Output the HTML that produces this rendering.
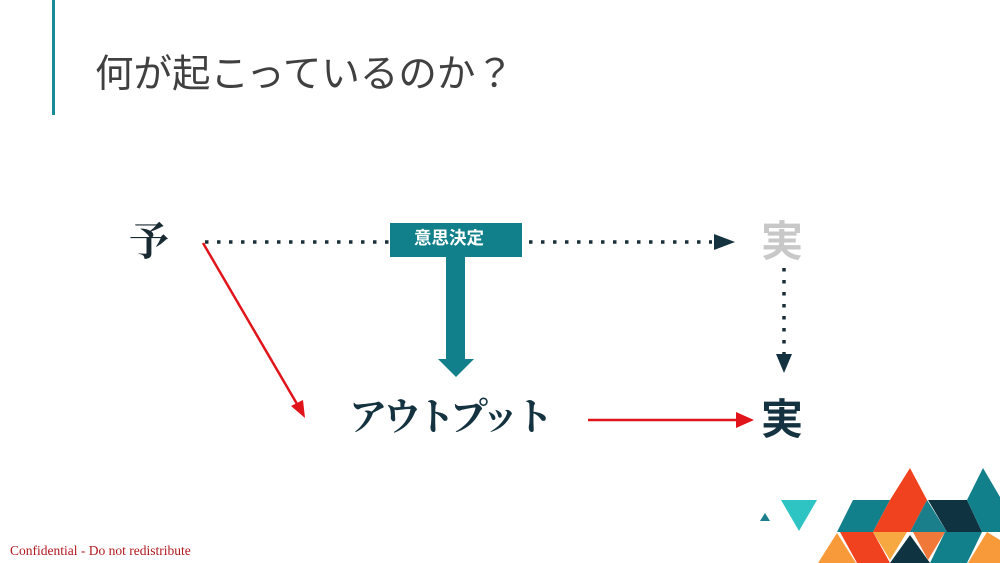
<!DOCTYPE html>
<html><head><meta charset="utf-8"><style>
body{margin:0;width:1000px;height:563px;overflow:hidden;background:#fff;position:relative;font-family:"Liberation Sans","Noto Sans CJK JP",sans-serif}
.t{position:absolute;white-space:nowrap;line-height:1}
</style></head><body>
<div style="position:absolute;left:52px;top:0;width:3px;height:115px;background:#1a8a96"></div>
<div class="t" style="left:95px;top:56px;font-size:38.5px;color:#404040">何が起こっているのか？</div>
<svg width="1000" height="563" style="position:absolute;left:0;top:0">
<line x1="205" y1="242" x2="712" y2="242" stroke="#1a2e38" stroke-width="3.5" stroke-dasharray="3.5,8.5"/>
<polygon points="714,234 735,242 714,250" fill="#14323f"/>
<line x1="784" y1="268" x2="784" y2="354" stroke="#1a2e38" stroke-width="3.5" stroke-dasharray="3.5,8.5"/>
<polygon points="776,354 792,354 784,373" fill="#14323f"/>
<rect x="390" y="223" width="132" height="34" fill="#11808a"/>
<rect x="446" y="257" width="19" height="103" fill="#11808a"/>
<polygon points="438,359 474,359 456,377" fill="#11808a"/>
<line x1="203" y1="243" x2="297" y2="404" stroke="#e0141a" stroke-width="2.5"/>
<polygon points="291,406 305,418 303,400" fill="#e0141a"/>
<line x1="588" y1="420" x2="738" y2="420" stroke="#e0141a" stroke-width="2.5"/>
<polygon points="736,412 754,420 736,428" fill="#e0141a"/>
<polygon points="760,521 770,521 765,513" fill="#1a7f8a"/>
<polygon points="781,500 817,500 799,531" fill="#2ec4c4"/>
<polygon points="853,500 890,500 873,532 837,532" fill="#12808a"/>
<polygon points="910,468 927,500 910,532 873,532 890,500" fill="#f0421e"/>
<polygon points="910,532 927,500 947,532" fill="#1a7f8a"/>
<polygon points="928,500 967,500 982,532 947,532" fill="#0f3340"/>
<polygon points="983,468 1000,497 1000,532 982,532 967,500" fill="#12808a"/>
<polygon points="837,533 818,563 856,563" fill="#f89a3a"/>
<polygon points="840,532 873,532 890,563 857,563" fill="#f0421e"/>
<polygon points="873,532 907,532 890,560" fill="#f8a840"/>
<polygon points="910,535 890,563 930,563" fill="#0f3340"/>
<polygon points="913,532 945,532 928,560" fill="#f0793a"/>
<polygon points="945,532 982,532 967,563 930,563" fill="#12808a"/>
<polygon points="987,532 968,563 1000,563 1000,540" fill="#f89a3a"/>
</svg>
<div class="t" style="left:414px;top:230px;font-size:17.5px;color:#fff;font-weight:bold">意思決定</div>
<div class="t" style="left:129px;top:222px;font-size:40px;color:#1a2a33;font-weight:bold;font-family:'Liberation Serif','Noto Serif CJK SC',serif">予</div>
<div class="t" style="left:761px;top:221px;font-size:42px;color:#c8c8c8;font-weight:bold">実</div>
<div class="t" style="left:761px;top:399px;font-size:42px;color:#14323f;font-weight:bold">実</div>
<div class="t" style="left:349px;top:399px;font-size:38px;letter-spacing:-4px;color:#14323f;font-weight:bold;font-family:'Liberation Serif','Noto Serif CJK SC',serif">アウトプット</div>
<div class="t" style="left:10px;top:544px;font-size:13.5px;color:#b0181e;font-family:'Liberation Serif',serif">Confidential - Do not redistribute</div>
</body></html>
